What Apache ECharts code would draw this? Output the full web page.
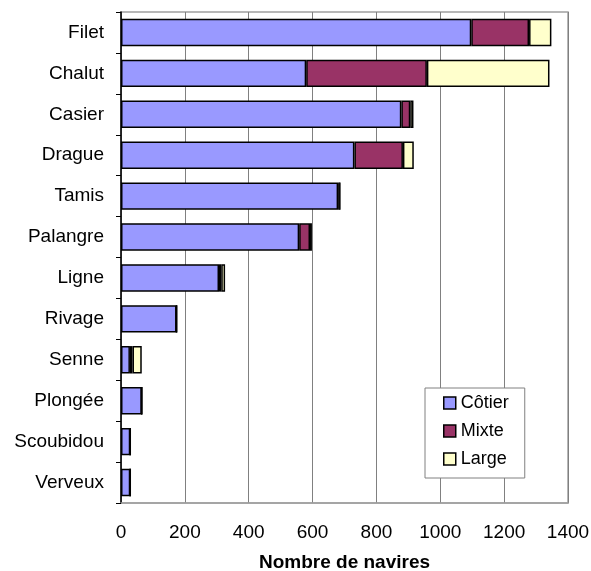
<!DOCTYPE html>
<html>
<head>
<meta charset="utf-8">
<script src="https://cdn.jsdelivr.net/npm/echarts@6/dist/echarts.min.js"></script>
<style>
html,body{margin:0;padding:0;background:#fff;}
#chart{width:591px;height:571px;}
</style>
</head>
<body>
<div id="chart"></div>
<script>
var categories = ['Filet','Chalut','Casier','Drague','Tamis','Palangre','Ligne','Rivage','Senne','Plongée','Scoubidou','Verveux'];
var cotier = [1097, 580, 878, 731, 680, 558, 307, 174, 28, 65, 29, 29];
var mixte  = [181, 378, 28, 152, 5, 34, 7, 0, 8, 0, 0, 0];
var large  = [70, 384, 10, 34, 1, 6, 12, 0, 29, 0, 0, 0];
var xTicks = [0, 200, 400, 600, 800, 1000, 1200, 1400];

var font = '"Liberation Sans", Arial, sans-serif';
function bar(name, data, color) {
  return {
    name: name, type: 'bar', stack: 'total', data: data,
    barCategoryGap: '33%',
    itemStyle: {color: color, borderColor: '#000', borderWidth: 1.5},
    emphasis: {disabled: true}
  };
}
var chart = echarts.init(document.getElementById('chart'));
chart.setOption({
  animation: false,
  textStyle: {fontFamily: font},
  grid: {left: 121, right: 23, top: 12, bottom: 68, show: true, borderColor: '#a0a0a0', borderWidth: 1.5,
    backgroundColor: '#fff', containLabel: false, outerBoundsMode: 'none'},
  legend: {
    orient: 'vertical', left: 425, top: 388,
    backgroundColor: '#fff', borderColor: '#808080', borderWidth: 1,
    padding: [6, 16, 10, 18], itemGap: 10,
    itemWidth: 12, itemHeight: 12, icon: 'rect',
    itemStyle: {borderColor: '#000', borderWidth: 1.5},
    textStyle: {fontSize: 18, color: '#000', fontFamily: font},
    data: ['Côtier', 'Mixte', 'Large']
  },
  xAxis: {
    type: 'value', min: xTicks[0], max: xTicks[xTicks.length - 1], interval: 200,
    axisLine: {show: true, lineStyle: {color: '#a0a0a0', width: 1.5}},
    axisTick: {show: false},
    axisLabel: {fontSize: 19, color: '#000', margin: 20, fontFamily: font,
      formatter: function (v) { return String(v); }},
    splitLine: {show: true, lineStyle: {color: '#808080', width: 1}},
    name: 'Nombre de navires', nameLocation: 'middle', nameGap: 50,
    nameTextStyle: {fontSize: 19, fontWeight: 'bold', color: '#000', fontFamily: font}
  },
  yAxis: {
    type: 'category', data: categories, inverse: true,
    axisLine: {show: true, lineStyle: {color: '#000', width: 1.5}},
    axisTick: {show: true, inside: false, length: 5, alignWithLabel: false, lineStyle: {color: '#000'}},
    axisLabel: {fontSize: 19, color: '#000', margin: 17, fontFamily: font},
    splitLine: {show: false}
  },
  series: [
    bar('Côtier', cotier, '#9999FF'),
    bar('Mixte', mixte, '#993366'),
    bar('Large', large, '#FFFFCC')
  ]
});
</script>
</body>
</html>
